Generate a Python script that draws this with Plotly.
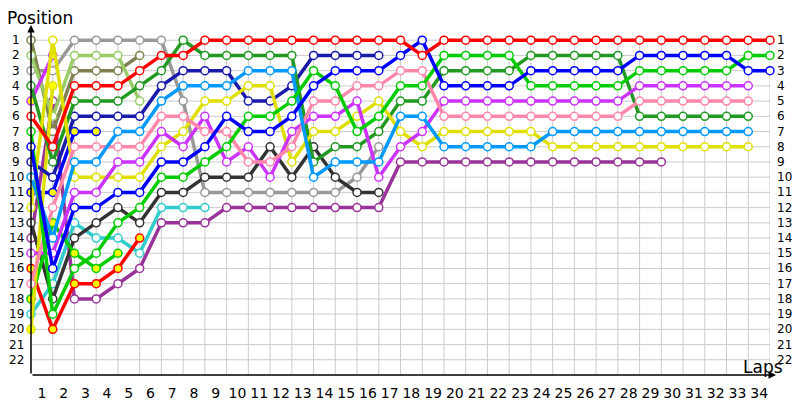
import plotly.graph_objects as go

# positions per lap, index 0 = grid
red = [6, 8, 4, 4, 4, 3, 2, 2] + [1] * 10 + [2] + [1] * 16
dark_green = [4, 9, 5, 5, 5, 4, 3, 1, 2, 2, 2, 2, 2, 9, 8, 8, 7, 5, 5, 3, 3, 3, 3,
              2, 2, 2, 2, 2, 6, 6, 6, 6, 6, 6]
navy = [9, 10, 6, 6, 6, 6, 4, 3, 3, 3, 5, 5, 4, 2, 2, 2, 2]
light_blue = [10, 14, 9, 9, 7, 7, 5, 4, 4, 4, 3, 3, 3, 10, 9, 9, 9, 6, 6, 8, 8, 8, 8, 8,
              7, 7, 7, 7, 7, 7, 7, 7, 7, 7]
yellow = [12, 1, 10, 10, 10, 10, 8, 7, 5, 5, 4, 4, 9, 7, 7, 6, 5, 7, 8, 7, 7, 7, 7, 7,
          8, 8, 8, 8, 8, 8, 8, 8, 8, 8]
pink = [17, 12, 8, 8, 8, 8, 6, 6, 7, 7, 9, 9, 8, 5, 5, 4, 4, 3, 3, 6, 6, 6, 6, 6,
        6, 6, 6, 6, 5, 5, 5, 5, 5, 5]
magenta = [15, 15, 11, 11, 9, 9, 7, 8, 6, 9, 8, 10, 7, 6, 6, 5, 10, 8, 7, 5, 5, 5, 5, 5,
           5, 5, 5, 5, 4, 4, 4, 4, 4, 4]
green = [7, 19, 16, 15, 13, 12, 10, 10, 9, 8, 6, 6, 5, 3, 4, 7, 6, 4, 4, 2, 2, 2, 2, 4,
         4, 4, 4, 4, 3, 3, 3, 3, 3, 2, 2]
blue = [8, 16, 12, 12, 11, 11, 9, 9, 8, 6, 7, 7, 6, 4, 3, 3, 3, 2, 1, 4, 4, 4, 4, 3,
        3, 3, 3, 3, 2, 2, 2, 2, 2, 3, 3]
dark_grey = [13, 18, 14, 13, 12, 13, 11, 11, 10, 10, 10, 8, 10, 8, 10, 11, 11]
grey = [3, 3, 1, 1, 1, 1, 1, 5, 11, 11, 11, 11, 11, 11, 11, 10, 8]
teal = [19, 17, 13, 14, 14, 15, 12, 12, 12]
dark_purple = [14, 5, 18, 18, 17, 16, 13, 13, 13, 12, 12, 12, 12, 12, 12, 12, 12,
               9, 9, 9, 9, 9, 9, 9, 9, 9, 9, 9, 9, 9]
olive = [1, 7, 3, 3, 3, 2]
light_green = [2, 6, 2, 2, 2, 5]
magenta_2 = [5, 2]
yellow_2 = [20, 4]
blue_2 = [11, 11, 7, 7]
green_2 = [18, 13, 15, 16, 15]
red_2 = [16, 20, 17, 17, 16, 14]

# (positions, colour, laps with a filled marker)
drivers = [
    (dark_purple, "#993399", []),
    (teal, "#33cccc", []),
    (grey, "#999999", []),
    (dark_grey, "#333333", []),
    (olive, "#808050", []),
    (light_green, "#99cc66", []),
    (red_2, "#ff0000", [0, 1, 2, 3, 4, 5]),
    (green_2, "#00cc00", [0, 1, 2, 3, 4]),
    (blue_2, "#0000ff", [0, 1, 2, 3]),
    (yellow_2, "#e0e000", [0, 1]),
    (magenta_2, "#cc33ff", [0, 1]),
    (navy, "#1a1aaa", []),
    (dark_green, "#229922", []),
    (yellow, "#e0e000", []),
    (magenta, "#cc33ff", []),
    (pink, "#ff88aa", []),
    (light_blue, "#0099ff", []),
    (green, "#00cc00", []),
    (blue, "#0000ff", []),
    (red, "#ff0000", []),
]

lap_labels = [str(k) for k in range(1, 35)]
pos_labels = [str(p) for p in range(1, 23)]

fig = go.Figure()

for pos, col, filled in drivers:
    laps = list(range(len(pos)))
    fills = ["#ffff00" if k in filled else "white" for k in laps]
    fig.add_trace(go.Scatter(
        x=laps, y=pos, mode="lines+markers", cliponaxis=False,
        line=dict(color=col, width=3.5),
        marker=dict(size=8, color=fills, line=dict(color=col, width=1.5)),
        hoverinfo="skip",
    ))

# grid
shapes = []
for k in range(1, 35):
    shapes.append(dict(type="line", xref="x", yref="y", x0=k, x1=k, y0=1, y1=23,
                       line=dict(color="#cccccc", width=1), layer="below"))
for p in range(1, 23):
    shapes.append(dict(type="line", xref="x", yref="y", x0=0, x1=34, y0=p, y1=p,
                       line=dict(color="#cccccc", width=1), layer="below"))

annotations = []
for p in range(1, 23):
    annotations.append(dict(x=0, xref="paper", xshift=-15, y=p, yref="y", text=pos_labels[p - 1],
                            showarrow=False, xanchor="center", font=dict(size=12)))
    annotations.append(dict(x=1, xref="paper", xshift=5, y=p, yref="y", text=pos_labels[p - 1],
                            showarrow=False, xanchor="left", font=dict(size=12)))

# axis arrows
annotations.append(dict(x=0, y=1, xref="paper", yref="paper", ax=0, ay=350, axref="pixel", ayref="pixel",
                        text="", showarrow=True, arrowhead=2, arrowsize=1, arrowwidth=1.5,
                        arrowcolor="black"))
annotations.append(dict(x=1, y=0, xref="paper", yref="paper", xshift=6, ax=-745, ay=0,
                        text="", showarrow=True, arrowhead=2, arrowsize=1, arrowwidth=1.5,
                        arrowcolor="black"))
annotations.append(dict(x=0, y=1, xref="paper", yref="paper", xshift=-26, yshift=7, text="Position",
                        showarrow=False, xanchor="left", yanchor="middle", font=dict(size=17)))
annotations.append(dict(x=1, y=0, xref="paper", yref="paper", xshift=-7, yshift=8, text="Laps",
                        showarrow=False, xanchor="center", yanchor="middle", font=dict(size=17)))

fig.update_layout(
    width=800, height=400,
    margin=dict(l=31, r=30, t=25, b=25),
    plot_bgcolor="white", paper_bgcolor="white",
    showlegend=False,
    font=dict(family="DejaVu Sans", color="black"),
    shapes=shapes, annotations=annotations,
    xaxis=dict(range=[0, 34], showgrid=False, zeroline=False, showline=False,
               tickvals=[k - 0.5 for k in range(1, 35)], ticktext=lap_labels,
               ticks="", tickfont=dict(size=14), ticklabelstandoff=8, automargin=False),
    yaxis=dict(range=[23, 0], showgrid=False, zeroline=False, showline=False,
               showticklabels=False, automargin=False),
)

# drop the page's default body margin so the figure sits at the window origin
fig.write_html("out.html", config={"displayModeBar": False},
               post_script="document.body.style.margin='0';")
